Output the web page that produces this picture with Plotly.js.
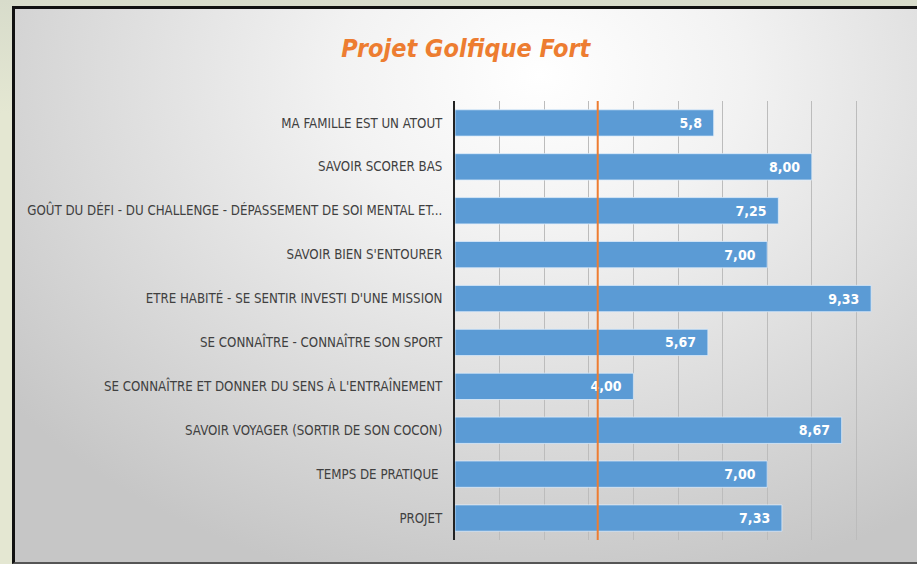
<!DOCTYPE html>
<html>
<head>
<meta charset="utf-8">
<script src="https://cdn.plot.ly/plotly-3.0.1.min.js"></script>
<style>
  html, body { margin:0; padding:0; width:917px; height:564px; overflow:hidden;
    background: linear-gradient(180deg, #d8dccb 0%, #e4e7d2 20%, #e4e7d2 100%); }
  #frame { position:absolute; left:12px; top:6px; width:905px; height:553px;
    border-left:3px solid #111; border-top:3px solid #111; border-bottom:2px solid #555;
    background: radial-gradient(ellipse 75% 95% at 58% 12%, #ffffff 0%, #f2f2f2 30%, #dcdcdc 65%, #c6c6c6 100%); }
  #chart { position:absolute; left:0; top:0; width:917px; height:564px; }
</style>
</head>
<body>
<div id="frame"></div>
<div id="chart"></div>
<script>
const categories = [
  "MA FAMILLE EST UN ATOUT",
  "SAVOIR SCORER BAS",
  "GOÛT DU DÉFI - DU CHALLENGE - DÉPASSEMENT DE SOI MENTAL ET...",
  "SAVOIR BIEN S'ENTOURER",
  "ETRE HABITÉ - SE SENTIR INVESTI D'UNE MISSION",
  "SE CONNAÎTRE - CONNAÎTRE SON SPORT",
  "SE CONNAÎTRE ET DONNER DU SENS À L'ENTRAÎNEMENT",
  "SAVOIR VOYAGER (SORTIR DE SON COCON)",
  "TEMPS DE PRATIQUE ",
  "PROJET"
];
const values = [5.8, 8.00, 7.25, 7.00, 9.33, 5.67, 4.00, 8.67, 7.00, 7.33];
const valueLabels = ["5,8", "8,00", "7,25", "7,00", "9,33", "5,67", "4,00", "8,67", "7,00", "7,33"];
const referenceValue = 3.2;

const LABEL_FONT = "'DejaVu Sans Condensed', 'Liberation Sans Narrow', 'Roboto', sans-serif";

const trace = {
  type: 'bar',
  orientation: 'h',
  y: categories,
  x: values,
  text: valueLabels.map(t => t + '\u00a0\u00a0'),
  textposition: 'inside',
  insidetextanchor: 'end',
  textangle: 0,
  textfont: { family: LABEL_FONT, size: 14, color: '#ffffff', weight: 'bold' },
  marker: { color: '#5B9BD5', line: { color: 'rgba(220,235,250,0.8)', width: 1 } },
  hoverinfo: 'x+y',
  cliponaxis: false
};

const layout = {
  width: 917, height: 564,
  margin: { l: 455, r: 16, t: 101, b: 24 },
  paper_bgcolor: 'rgba(0,0,0,0)',
  plot_bgcolor: 'rgba(0,0,0,0)',
  bargap: 0.4,
  showlegend: false,
  title: {
    text: '<b><i>Projet Golfique Fort</i></b>',
    font: { family: LABEL_FONT, size: 25, color: '#ED7D31' },
    x: 0.508, xanchor: 'center', y: 0.915, yanchor: 'middle'
  },
  xaxis: {
    range: [0, 10], dtick: 1, tick0: 0,
    showgrid: true, gridcolor: '#bcbcbc', gridwidth: 1,
    showticklabels: false, zeroline: false, showline: false, ticks: '',
    fixedrange: true
  },
  yaxis: {
    autorange: 'reversed', type: 'category',
    showline: true, linecolor: '#222', linewidth: 2,
    showgrid: false, ticks: '', ticklen: 0,
    ticklabelstandoff: 8,
    tickfont: { family: LABEL_FONT, size: 13.2, color: '#404040' },
    fixedrange: true
  },
  shapes: [{
    type: 'line', xref: 'x', yref: 'paper',
    x0: referenceValue, x1: referenceValue, y0: 0, y1: 1,
    line: { color: '#ED7D31', width: 2 }, layer: 'above'
  }]
};

Plotly.newPlot('chart', [trace], layout, { displayModeBar: false, staticPlot: true });
</script>
</body>
</html>
